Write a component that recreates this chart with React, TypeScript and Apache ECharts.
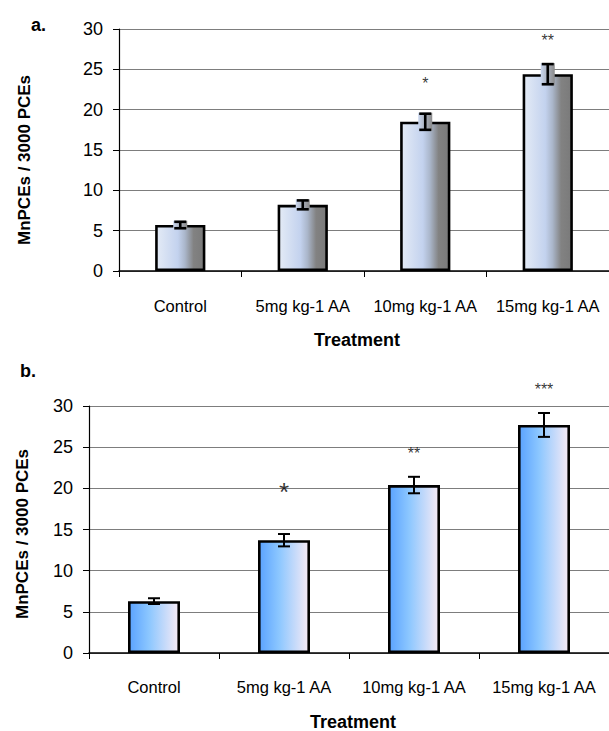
import React, { useEffect, useRef } from "react";
import * as echarts from "echarts";

const categories = ["Control", "5mg kg-1 AA", "10mg kg-1 AA", "15mg kg-1 AA"];
const yTicks = [0, 5, 10, 15, 20, 25, 30];

// Panel a
const meansA = [5.7, 8.2, 18.5, 24.4];
const errA = [0.4, 0.55, 1.0, 1.25];
const starsA = ["", "", "*", "**"];
const starPosA = [0, 0, 23.2, 28.6];

// Panel b
const meansB = [6.3, 13.7, 20.4, 27.7];
const errB = [0.35, 0.75, 1.0, 1.45];
const starsB = ["", "*", "**", "***"];
const starPosB = [0, 19.6, 24.2, 32.0];

const FONT = "'Liberation Sans', Arial, sans-serif";

export default function App() {
  const ref = useRef<HTMLDivElement>(null);

  useEffect(() => {
    if (!ref.current) return;
    const chart = echarts.init(ref.current, null, { renderer: "svg" });

    const gradA = new echarts.graphic.LinearGradient(0, 0, 1, 0, [
      { offset: 0, color: "#e4ebf6" },
      { offset: 0.45, color: "#c3d2ee" },
      { offset: 0.6, color: "#aab6ca" },
      { offset: 0.78, color: "#828282" },
      { offset: 1, color: "#7a7a7a" },
    ]);
    const gradB = new echarts.graphic.LinearGradient(0, 0, 1, 0, [
      { offset: 0, color: "#5aa2ff" },
      { offset: 0.4, color: "#8cc7ff" },
      { offset: 1, color: "#f6eaf6" },
    ]);
    const errBg = new echarts.graphic.LinearGradient(0, 0, 1, 0, [
      { offset: 0, color: "#c9d6ee" },
      { offset: 1, color: "#8a8a8a" },
    ]);

    const yAxisBase = (gridIndex: number) => ({
      type: "value" as const,
      gridIndex,
      min: 0,
      max: 30,
      interval: 5,
      axisLine: { show: true, lineStyle: { color: "#000", width: 1.2 } },
      axisTick: { show: true, length: 6, lineStyle: { color: "#000", width: 1 } },
      axisLabel: {
        color: "#000",
        fontSize: 18,
        fontFamily: FONT,
        margin: 16,
        formatter: (v: number) => (yTicks.includes(v) ? String(v) : ""),
      },
      splitLine: { show: true, lineStyle: { color: "#7d7d7d", width: 1 } },
    });

    const xAxisBase = (gridIndex: number, margin: number) => ({
      type: "category" as const,
      gridIndex,
      data: categories,
      axisLine: { show: true, lineStyle: { color: "#000", width: 1.5 } },
      axisTick: { show: true, length: 6, lineStyle: { color: "#000", width: 1 } },
      axisLabel: { color: "#000", fontSize: 16.5, fontFamily: FONT, margin, interval: 0 },
    });

    const errSeries = (idx: number, means: number[], errs: number[], withBg: boolean) => ({
      type: "custom" as const,
      xAxisIndex: idx,
      yAxisIndex: idx,
      z: 5,
      data: means.map((m, i) => [i, m, errs[i]]),
      encode: { x: 0, y: 1 },
      renderItem: (params: any, api: any) => {
        const i = api.value(0);
        const m = api.value(1);
        const e = api.value(2);
        const top = api.coord([i, m + e]);
        const bot = api.coord([i, m - e]);
        const x = top[0];
        const hw = 6;
        const lw = withBg ? 2.6 : 2;
        const children: any[] = [];
        if (withBg) {
          children.push({
            type: "rect",
            shape: { x: x - 7, y: top[1] - 1, width: 14, height: bot[1] - top[1] + 2 },
            style: { fill: errBg },
          });
        }
        children.push(
          { type: "line", shape: { x1: x, y1: top[1], x2: x, y2: bot[1] }, style: { stroke: "#000", lineWidth: lw } },
          { type: "line", shape: { x1: x - hw, y1: top[1], x2: x + hw, y2: top[1] }, style: { stroke: "#000", lineWidth: lw } },
          { type: "line", shape: { x1: x - hw, y1: bot[1], x2: x + hw, y2: bot[1] }, style: { stroke: "#000", lineWidth: lw } }
        );
        return { type: "group", children };
      },
    });

    const starSeries = (idx: number, stars: string[], pos: number[], big: boolean) => ({
      type: "scatter" as const,
      xAxisIndex: idx,
      yAxisIndex: idx,
      symbolSize: 0,
      clip: false,
      silent: true,
      z: 6,
      data: stars
        .map((s, i) => ({ s, i }))
        .filter((d) => d.s !== "")
        .map((d) => ({
          value: [d.i, pos[d.i]],
          label: {
            show: true,
            position: "inside",
            formatter: d.s,
            color: "#000",
            fontFamily: FONT,
            fontSize: big && d.s === "*" ? 26 : 16,
          },
        })),
    });

    chart.setOption({
      animation: false,
      backgroundColor: "#fff",
      grid: [
        { left: 119, top: 29, width: 491, height: 242 },
        { left: 89, top: 406, width: 523, height: 247 },
      ],
      xAxis: [xAxisBase(0, 26), xAxisBase(1, 25)],
      yAxis: [yAxisBase(0), yAxisBase(1)],
      series: [
        {
          type: "bar",
          xAxisIndex: 0,
          yAxisIndex: 0,
          data: meansA,
          barWidth: "41%",
          itemStyle: { color: gradA, borderColor: "#000", borderWidth: 2.6 },
        },
        errSeries(0, meansA, errA, true),
        starSeries(0, starsA, starPosA, false),
        {
          type: "bar",
          xAxisIndex: 1,
          yAxisIndex: 1,
          data: meansB,
          barWidth: "40%",
          itemStyle: { color: gradB, borderColor: "#000", borderWidth: 2.6 },
        },
        errSeries(1, meansB, errB, false),
        starSeries(1, starsB, starPosB, true),
      ],
      graphic: [
        { type: "text", left: 31, top: 16, style: { text: "a.", font: `bold 18px ${FONT}`, fill: "#000" } },
        { type: "text", left: 20, top: 362, style: { text: "b.", font: `bold 18px ${FONT}`, fill: "#000" } },
        {
          type: "text",
          x: 24,
          y: 160,
          rotation: Math.PI / 2,
          style: { text: "MnPCEs / 3000 PCEs", font: `bold 17px ${FONT}`, fill: "#000", align: "center", verticalAlign: "middle" },
        },
        {
          type: "text",
          x: 22,
          y: 534,
          rotation: Math.PI / 2,
          style: { text: "MnPCEs / 3000 PCEs", font: `bold 17px ${FONT}`, fill: "#000", align: "center", verticalAlign: "middle" },
        },
        {
          type: "text",
          x: 357,
          y: 340,
          style: { text: "Treatment", font: `bold 18px ${FONT}`, fill: "#000", align: "center", verticalAlign: "middle" },
        },
        {
          type: "text",
          x: 353,
          y: 722,
          style: { text: "Treatment", font: `bold 18px ${FONT}`, fill: "#000", align: "center", verticalAlign: "middle" },
        },
      ],
    });

    return () => chart.dispose();
  }, []);

  return <div ref={ref} style={{ position: "absolute", left: 0, top: 0, width: 609, height: 731 }} />;
}
